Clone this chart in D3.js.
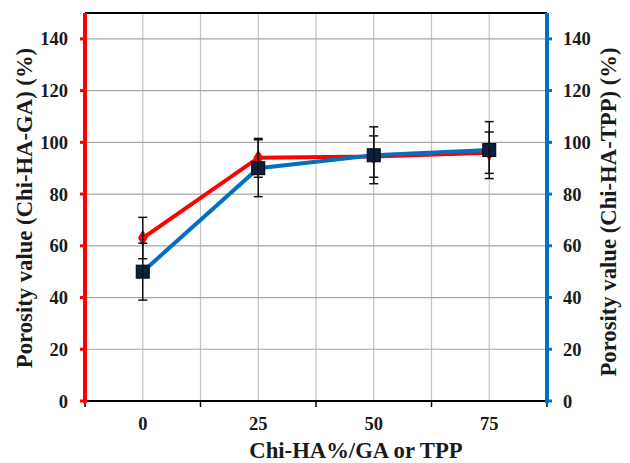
<!DOCTYPE html>
<html lang="en">
<head>
  <meta charset="UTF-8" />
  <title>Porosity value</title>
  <script src="https://d3js.org/d3.v7.min.js"></script>
  <style>
    body { margin: 0; background: #fff; }
    svg { display: block; }
  </style>
</head>
<body>
  <svg id="chart" width="630" height="463"></svg>
  <script>
    const categories = ['0', '25', '50', '75'];
    const gaValues = [63, 94, 94.5, 96];
    const gaErrors = [8, 7.5, 8, 8];
    const tppValues = [50, 90, 95, 97];
    const tppErrors = [11, 11, 11, 11];
    const yTicks = [0, 20, 40, 60, 80, 100, 120, 140];

    const svg = d3.select('#chart');
    const plotL = 85, plotR = 547, plotT = 13, plotB = 401;
    const serif = '"Liberation Serif", "Times New Roman", Times, "DejaVu Serif", serif';

    const x = d3.scaleBand().domain(categories).range([plotL, plotR]);
    const cx = c => x(c) + x.bandwidth() / 2;
    const y = d3.scaleLinear().domain([0, 150]).range([plotB, plotT]);

    // grid: vertical lines at category edges and centres, horizontal at every tick
    const grid = svg.append('g');
    const vlines = [];
    categories.forEach(c => { vlines.push(x(c)); vlines.push(cx(c)); });
    vlines.push(plotR);
    grid.selectAll('line.v').data(vlines.slice(1, -1)).enter().append('line')
      .attr('x1', d => d).attr('x2', d => d).attr('y1', plotT).attr('y2', plotB)
      .attr('stroke', '#c4c4c4').attr('stroke-width', 1.2);
    grid.selectAll('line.h').data(yTicks.slice(1)).enter().append('line')
      .attr('x1', plotL).attr('x2', plotR).attr('y1', d => y(d)).attr('y2', d => y(d))
      .attr('stroke', '#a6a6a6').attr('stroke-width', 1.2);

    svg.append('line').attr('x1', plotL).attr('x2', plotR).attr('y1', plotT).attr('y2', plotT)
      .attr('stroke', '#000').attr('stroke-width', 2);
    svg.append('line').attr('x1', plotL).attr('x2', plotR).attr('y1', plotB).attr('y2', plotB)
      .attr('stroke', '#000').attr('stroke-width', 2);

    const txt = svg.append('g').attr('font-family', serif).attr('font-weight', 'bold').attr('fill', '#1a1a1a');

    svg.selectAll('line.xt').data(categories.map(c => x(c)).concat([plotR])).enter().append('line')
      .attr('x1', d => d).attr('x2', d => d).attr('y1', plotB).attr('y2', plotB + 6)
      .attr('stroke', '#000').attr('stroke-width', 1.5);
    txt.selectAll('text.xl').data(categories).enter().append('text')
      .attr('x', d => cx(d)).attr('y', 430).attr('text-anchor', 'middle')
      .attr('font-size', 18.5).text(d => d);

    // the two coloured y axes
    svg.append('line').attr('x1', plotL).attr('x2', plotL).attr('y1', plotT).attr('y2', plotB + 2)
      .attr('stroke', '#ff0000').attr('stroke-width', 4);
    svg.append('line').attr('x1', plotR).attr('x2', plotR).attr('y1', plotT).attr('y2', plotB + 2)
      .attr('stroke', '#0070c0').attr('stroke-width', 4);
    svg.selectAll('line.ytl').data(yTicks).enter().append('line')
      .attr('x1', plotL - 5).attr('x2', plotL).attr('y1', d => y(d)).attr('y2', d => y(d))
      .attr('stroke', '#ff0000').attr('stroke-width', 3);
    svg.selectAll('line.ytr').data(yTicks).enter().append('line')
      .attr('x1', plotR).attr('x2', plotR + 5).attr('y1', d => y(d)).attr('y2', d => y(d))
      .attr('stroke', '#0070c0').attr('stroke-width', 3);
    txt.selectAll('text.yl').data(yTicks).enter().append('text')
      .attr('x', 68).attr('y', d => y(d) + 6.5).attr('text-anchor', 'end')
      .attr('font-size', 18.5).text(d => d);
    txt.selectAll('text.yr').data(yTicks).enter().append('text')
      .attr('x', 563).attr('y', d => y(d) + 6.5).attr('text-anchor', 'start')
      .attr('font-size', 18.5).text(d => d);

    txt.append('text').attr('transform', 'translate(32,208) rotate(-90)')
      .attr('text-anchor', 'middle').attr('font-size', 22.7).text('Porosity value (Chi-HA-GA) (%)');
    txt.append('text').attr('transform', 'translate(616,212) rotate(-90)')
      .attr('text-anchor', 'middle').attr('font-size', 22.7).text('Porosity value (Chi-HA-TPP) (%)');
    txt.append('text').attr('x', 356).attr('y', 458).attr('text-anchor', 'middle')
      .attr('font-size', 22.7).text('Chi-HA%/GA or TPP');

    const line = d3.line().x(d => cx(d.c)).y(d => y(d.v));
    const ga = categories.map((c, i) => ({ c, v: gaValues[i], e: gaErrors[i] }));
    const tpp = categories.map((c, i) => ({ c, v: tppValues[i], e: tppErrors[i] }));

    svg.append('path').datum(ga).attr('d', line).attr('fill', 'none')
      .attr('stroke', '#ff0000').attr('stroke-width', 4);
    svg.append('path').datum(tpp).attr('d', line).attr('fill', 'none')
      .attr('stroke', '#0070c0').attr('stroke-width', 4);

    svg.selectAll('path.dia').data(ga).enter().append('path')
      .attr('d', d3.symbol(d3.symbolDiamond, 80)())
      .attr('transform', d => `translate(${cx(d.c)},${y(d.v)})`)
      .attr('fill', '#ff0000');
    svg.selectAll('rect.sq').data(tpp).enter().append('rect')
      .attr('x', d => cx(d.c) - 6.5).attr('y', d => y(d.v) - 6.5)
      .attr('width', 13).attr('height', 13)
      .attr('fill', '#0b1f45').attr('stroke', '#000').attr('stroke-width', 1);

    function errorBars(data, cls) {
      const g = svg.append('g').attr('stroke', '#111').attr('stroke-width', 1.5);
      g.selectAll('line.' + cls).data(data).enter().append('line')
        .attr('x1', d => cx(d.c)).attr('x2', d => cx(d.c))
        .attr('y1', d => y(d.v + d.e)).attr('y2', d => y(d.v - d.e));
      [1, -1].forEach(s => {
        g.selectAll('line.cap' + cls + s).data(data).enter().append('line')
          .attr('x1', d => cx(d.c) - 4.5).attr('x2', d => cx(d.c) + 4.5)
          .attr('y1', d => y(d.v + s * d.e)).attr('y2', d => y(d.v + s * d.e));
      });
    }
    errorBars(ga, 'ga');
    errorBars(tpp, 'tpp');
  </script>
</body>
</html>
